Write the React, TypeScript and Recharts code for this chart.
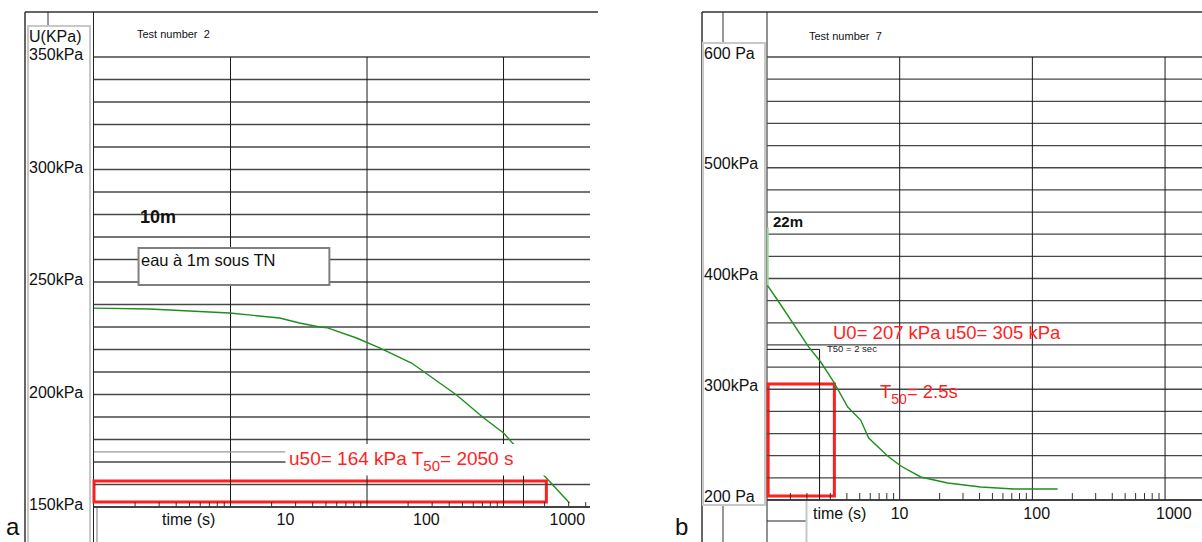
import React from 'react';
import { LineChart, Line, XAxis, YAxis, ReferenceLine, ReferenceArea } from 'recharts';

// ---------- Panel a : Test number 2 (10 m) ----------
const leftTime = [1, 2.55, 9.83, 22.9, 32, 44.9, 51.4, 83.7, 123.6, 212, 453, 702, 1000, 1164, 1996, 3043];
const leftPressure = [238.4, 238.0, 236.2, 234.0, 231.8, 230.0, 229.6, 225.1, 220.7, 214.0, 199.8, 190, 182.9, 178.4, 163.8, 151.8];

// ---------- Panel b : Test number 7 (22 m) ----------
const rightRiseTime = [1.012, 1.012];
const rightRisePressure = [446, 394];
const rightTime = [1.005, 1.2, 2.06, 2.54, 3.18, 4.06, 5.08, 5.84, 8.11, 10.2, 14.4, 23, 40.8, 72.4, 155];
const rightPressure = [394, 380.6, 338.2, 324.6, 306.6, 284, 272.2, 256, 239.7, 230.7, 220.8, 215.4, 211.7, 209.9, 209.9];

// ---------- axes / grid ----------
const leftGridY = [150, 160, 170, 180, 190, 200, 210, 220, 230, 240, 250, 260, 270, 280, 290, 300, 310, 320, 330, 340, 350];
const rightGridY = [200, 220, 240, 260, 280, 300, 320, 340, 360, 380, 400, 420, 440, 460, 480, 500, 520, 540, 560, 580, 600];
const decades = [10, 100, 1000];
const leftMinorTicks = [2, 3, 4, 5, 6, 7, 8, 9, 20, 30, 40, 50, 60, 70, 80, 90, 200, 300, 400, 500, 600, 700, 800, 900, 2000, 3000, 4000];
const rightMinorTicks = [1.5, 2, 3, 4, 5, 6, 7, 8, 9, 20, 30, 40, 50, 60, 70, 80, 90, 200, 300, 400, 500, 600, 700, 800, 900];
const leftYLabelValues = [150, 200, 250, 300, 350];
const leftYLabelText = ['150kPa', '200kPa', '250kPa', '300kPa', '350kPa'];
const rightYLabelValues = [200, 300, 400, 500, 600];
const rightYLabelText = ['200 Pa', '300kPa', '400kPa', '500kPa', '600 Pa'];

const leftData = leftTime.map((t, i) => ({ t, v: leftPressure[i] }));
const rightRiseData = rightRiseTime.map((t, i) => ({ t, v: rightRisePressure[i] }));
const rightData = rightTime.map((t, i) => ({ t, v: rightPressure[i] }));

const FONT = '"Liberation Sans", Arial, Helvetica, sans-serif';
const GRID_H = '#474747';
const GRID_V = '#1a1a1a';
const GREEN = '#1e8e1e';
const RED = '#ff1f1f';

function makeXTick(bottom: number, tickLen: number, dx: number, baseline: number) {
  return (props: any) => {
    const { x, payload } = props;
    const v = payload.value;
    if (decades.includes(v)) {
      return (
        <text x={x + dx} y={baseline} fontSize={16} fill="#111" textAnchor="start" fontFamily={FONT}>
          {String(v)}
        </text>
      );
    }
    return <line x1={x} x2={x} y1={bottom - tickLen} y2={bottom} stroke="#333" strokeWidth={1} />;
  };
}

function makeYTick(values: number[], texts: string[], textX: number, dy: number) {
  return (props: any) => {
    const { y, payload } = props;
    const idx = values.indexOf(payload.value);
    if (idx < 0) return <g />;
    return (
      <text x={textX} y={y + dy} fontSize={16} fill="#111" textAnchor="start" fontFamily={FONT}>
        {texts[idx]}
      </text>
    );
  };
}

const leftXTick = makeXTick(507, 5, 46, 525);
const rightXTick = makeXTick(500, 7, -9, 519);
const leftYTick = makeYTick(leftYLabelValues, leftYLabelText, 29, 3);
const rightYTick = makeYTick(rightYLabelValues, rightYLabelText, 24, 1.5);

export default function App() {
  return (
    <div
      style={{
        position: 'absolute',
        left: 0,
        top: 0,
        width: 1202,
        height: 542,
        overflow: 'hidden',
        background: '#fff',
        fontFamily: FONT,
      }}
    >
      {/* frames (underlay) */}
      <svg width={1202} height={542} style={{ position: 'absolute', left: 0, top: 0 }}>
        {/* panel a frame */}
        <line x1={25} y1={12} x2={598} y2={12} stroke="#333" strokeWidth={1.5} />
        <line x1={25} y1={12} x2={25} y2={542} stroke="#333" strokeWidth={1.5} />
        <line x1={48} y1={12} x2={48} y2={26} stroke="#333" strokeWidth={1} />
        <rect x={28} y={26} width={62} height={520} fill="none" stroke="#c8c8c8" strokeWidth={2} />
        <line x1={93.5} y1={12} x2={93.5} y2={542} stroke="#222" strokeWidth={1} />
        <line x1={97} y1={507} x2={97} y2={542} stroke="#bbb" strokeWidth={2} />
        {/* panel b frame */}
        <line x1={702} y1={12} x2={1202} y2={12} stroke="#333" strokeWidth={1.5} />
        <line x1={702} y1={12} x2={702} y2={542} stroke="#333" strokeWidth={1.5} />
        <line x1={723} y1={12} x2={723} y2={43} stroke="#333" strokeWidth={1} />
        <line x1={723} y1={505} x2={723} y2={542} stroke="#333" strokeWidth={1} />
        <rect x={703} y={43} width={62} height={462} fill="none" stroke="#c8c8c8" strokeWidth={2} />
        <line x1={767} y1={12} x2={767} y2={542} stroke="#222" strokeWidth={1} />
        <line x1={767} y1={521} x2={806} y2={521} stroke="#222" strokeWidth={1} />
        <line x1={806.5} y1={501} x2={806.5} y2={542} stroke="#c8c8c8" strokeWidth={2} />
      </svg>

      {/* panel a chart */}
      <div style={{ position: 'absolute', left: 0, top: 0 }}>
        <LineChart width={600} height={542} margin={{ top: 57, right: 10, bottom: 0, left: 0 }}>
          <XAxis
            dataKey="t"
            type="number"
            scale="log"
            domain={[1, 4300]}
            allowDataOverflow
            ticks={[...leftMinorTicks, ...decades].sort((a, b) => a - b)}
            interval={0}
            height={35}
            axisLine={{ stroke: '#333', strokeWidth: 1.3 }}
            tickLine={false}
            tick={leftXTick}
          />
          <YAxis
            type="number"
            domain={[150, 350]}
            allowDataOverflow
            ticks={leftYLabelValues}
            interval={0}
            width={94}
            axisLine={false}
            tickLine={false}
            tick={leftYTick}
          />
          {leftGridY.map((v) => (
            <ReferenceLine key={'ly' + v} y={v} stroke={GRID_H} strokeWidth={1.3} />
          ))}
          {decades.map((v) => (
            <ReferenceLine key={'lx' + v} x={v} stroke={GRID_V} strokeWidth={1} />
          ))}
          <ReferenceLine segment={[{ x: 1, y: 174.5 }, { x: 25.3, y: 174.5 }]} stroke="#999" strokeWidth={1.3} />
          <ReferenceLine segment={[{ x: 1400, y: 150 }, { x: 1400, y: 164 }]} stroke={GRID_V} strokeWidth={1} />
          <ReferenceArea x1={1} x2={2060} y1={152.2} y2={161.6} fill="none" stroke={RED} strokeWidth={3} />
          <Line
            data={leftData}
            dataKey="v"
            type="linear"
            dot={false}
            stroke={GREEN}
            strokeWidth={1.4}
            isAnimationActive={false}
          />
          <ReferenceArea
            x1={2.12}
            x2={53}
            y1={248.7}
            y2={265.1}
            fill="#fff"
            fillOpacity={1}
            stroke="#808080"
            strokeWidth={2}
            zIndex={600}
          />
          <ReferenceArea
            x1={25.3}
            x2={4300}
            y1={164}
            y2={178}
            fill="#fff"
            fillOpacity={1}
            stroke="none"
            zIndex={600}
          />
        </LineChart>
      </div>

      {/* panel b chart */}
      <div style={{ position: 'absolute', left: 680, top: 0 }}>
        <LineChart width={525} height={542} margin={{ top: 57, right: 0, bottom: 0, left: 0 }}>
          <XAxis
            dataKey="t"
            type="number"
            scale="log"
            domain={[1, 2000]}
            allowDataOverflow
            ticks={[...rightMinorTicks, ...decades].sort((a, b) => a - b)}
            interval={0}
            height={42}
            axisLine={{ stroke: '#333', strokeWidth: 1.3 }}
            tickLine={false}
            tick={rightXTick}
          />
          <YAxis
            type="number"
            domain={[200, 600]}
            allowDataOverflow
            ticks={rightYLabelValues}
            interval={0}
            width={87}
            axisLine={false}
            tickLine={false}
            tick={rightYTick}
          />
          {rightGridY.map((v) => (
            <ReferenceLine key={'ry' + v} y={v} stroke={GRID_H} strokeWidth={1.3} />
          ))}
          {decades.map((v) => (
            <ReferenceLine key={'rx' + v} x={v} stroke={GRID_V} strokeWidth={1} />
          ))}
          <ReferenceLine segment={[{ x: 1, y: 336 }, { x: 2.49, y: 336 }]} stroke="#111" strokeWidth={1} />
          <ReferenceLine segment={[{ x: 2.49, y: 200 }, { x: 2.49, y: 336 }]} stroke="#111" strokeWidth={1} />
          <ReferenceArea x1={1.02} x2={3.22} y1={203.6} y2={304.7} fill="none" stroke={RED} strokeWidth={3} />
          <Line
            data={rightData}
            dataKey="v"
            type="linear"
            dot={false}
            stroke={GREEN}
            strokeWidth={1.4}
            isAnimationActive={false}
          />
          <Line
            data={rightRiseData}
            dataKey="v"
            type="linear"
            dot={false}
            stroke="#8fd88f"
            strokeWidth={2}
            isAnimationActive={false}
          />
        </LineChart>
      </div>

      {/* text overlay */}
      <svg
        width={1202}
        height={542}
        style={{ position: 'absolute', left: 0, top: 0, pointerEvents: 'none' }}
        fontFamily={FONT}
      >
        <text x={29} y={42} fontSize={16} fill="#111">U(KPa)</text>
        <text x={137} y={38} fontSize={11} fill="#111" xmlSpace="preserve">Test number  2</text>
        <text x={809} y={40} fontSize={11} fill="#111" xmlSpace="preserve">Test number  7</text>
        <text x={140} y={223} fontSize={18} fontWeight="bold" fill="#111">10m</text>
        <text x={141} y={266} fontSize={16.5} fill="#111">eau à 1m sous TN</text>
        <text x={773} y={227} fontSize={15} fontWeight="bold" fill="#111">22m</text>
        <text x={162} y={525} fontSize={16} fill="#111">time (s)</text>
        <text x={813} y={519} fontSize={16} fill="#111">time (s)</text>
        <text x={289} y={465} fontSize={19} fill={RED}>
          u50= 164 kPa T<tspan fontSize={15} dy={6}>50</tspan>
          <tspan dy={-6}>= 2050 s</tspan>
        </text>
        <text x={833} y={339} fontSize={18.5} fill={RED}>U0= 207 kPa u50= 305 kPa</text>
        <text x={880} y={398} fontSize={18.5} fill={RED}>
          T<tspan fontSize={14} dy={6}>50</tspan>
          <tspan dy={-6}>= 2.5s</tspan>
        </text>
        <text x={827} y={352} fontSize={9.5} fill="#222">T50 = 2 sec</text>
        <text x={6} y={535} fontSize={24} fill="#111">a</text>
        <text x={675} y={535} fontSize={24} fill="#111">b</text>
      </svg>
    </div>
  );
}
